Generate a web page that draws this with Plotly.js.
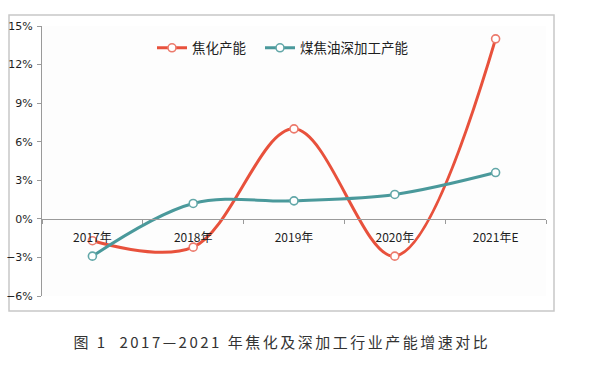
<!DOCTYPE html>
<html>
<head>
<meta charset="utf-8">
<script src="https://cdn.plot.ly/plotly-3.0.1.min.js"></script>
<style>
  html, body { margin: 0; padding: 0; background: #ffffff; }
  #chart { width: 606px; height: 372px; }
</style>
</head>
<body>
<div id="chart"></div>
<script>
// ---- data ----
const categories = ['2017年', '2018年', '2019年', '2020年', '2021年E'];
const cokingCapacity = [-1.7, -2.2, 7.0, -2.9, 14.0];          // 焦化产能 (%)
const deepProcessingCapacity = [-2.9, 1.2, 1.4, 1.9, 3.6];      // 煤焦油深加工产能 (%)
const seriesNames = ['焦化产能', '煤焦油深加工产能'];
const yTickVals = [-6, -3, 0, 3, 6, 9, 12, 15];
const yTickText = ['−6%', '−3%', '0%', '3%', '6%', '9%', '12%', '15%'];
const captionText = '图 1  2017—2021 年焦化及深加工行业产能增速对比';

const RED = '#e8513c';
const TEAL = '#4a999b';
const yMin = -6, yMax = 15;

const traces = [
  {
    x: categories, y: cokingCapacity, name: seriesNames[0],
    type: 'scatter', mode: 'lines+markers', legend: 'legend',
    line: { color: RED, width: 3, shape: 'spline', smoothing: 1 },
    marker: { symbol: 'circle', size: 8, color: '#ffffff', line: { color: '#ec7a6c', width: 1.6 } },
    hoverinfo: 'skip'
  },
  {
    x: categories, y: deepProcessingCapacity, name: seriesNames[1],
    type: 'scatter', mode: 'lines+markers', legend: 'legend2',
    line: { color: TEAL, width: 3, shape: 'spline', smoothing: 1 },
    marker: { symbol: 'circle', size: 8, color: '#ffffff', line: { color: '#62a7a8', width: 1.6 } },
    hoverinfo: 'skip'
  }
];

const plotW = 504, plotH = 270, mL = 42, mT = 26;
function px2x(px) { return (px - mL) / plotW; }
function py2y(py) { return 1 - (py - mT) / plotH; }

const legendFont = { size: 13.5, color: '#1e1e1e', family: '"Noto Sans CJK SC", sans-serif' };

const layout = {
  width: 606, height: 372,
  margin: { l: mL, r: 606 - mL - plotW, t: mT, b: 372 - mT - plotH, pad: 0 },
  paper_bgcolor: '#ffffff',
  plot_bgcolor: '#fdfdfd',
  font: { family: '"Noto Sans CJK SC", "Noto Sans", sans-serif', color: '#222222', size: 12 },
  showlegend: true,
  legend: {
    orientation: 'h', x: px2x(152), xanchor: 'left', y: py2y(48), yanchor: 'middle',
    font: legendFont, bgcolor: 'rgba(0,0,0,0)', itemclick: false
  },
  legend2: {
    orientation: 'h', x: px2x(260), xanchor: 'left', y: py2y(48), yanchor: 'middle',
    font: legendFont, bgcolor: 'rgba(0,0,0,0)', itemclick: false
  },
  xaxis: {
    type: 'category',
    range: [-0.5, categories.length - 0.5],
    anchor: 'free',
    position: (0 - yMin) / (yMax - yMin),
    showline: true, linecolor: '#9a9a9a', linewidth: 1,
    ticks: 'outside', tickson: 'boundaries', ticklen: 4, tickcolor: '#9a9a9a',
    showgrid: false, zeroline: false,
    tickfont: { size: 12, color: '#1e1e1e', family: '"Noto Sans CJK SC", sans-serif' },
    ticklabelstandoff: 8,
    fixedrange: true
  },
  yaxis: {
    range: [yMin, yMax],
    tickvals: yTickVals, ticktext: yTickText,
    showline: true, linecolor: '#9a9a9a', linewidth: 1,
    ticks: 'outside', ticklen: 4, tickcolor: '#9a9a9a',
    showgrid: false, zeroline: false,
    tickfont: { size: 11, color: '#1e1e1e', family: '"DejaVu Sans", sans-serif' },
    ticklabelstandoff: 2,
    fixedrange: true
  },
  shapes: [
    {
      type: 'rect', xref: 'paper', yref: 'paper',
      x0: px2x(9), x1: px2x(554), y0: py2y(311), y1: py2y(15),
      line: { color: '#c8c8c8', width: 1.5 }, fillcolor: 'rgba(0,0,0,0)', layer: 'below'
    }
  ],
  annotations: [
    {
      text: captionText, xref: 'paper', yref: 'paper',
      x: px2x(281.5), y: py2y(341), xanchor: 'center', yanchor: 'middle',
      showarrow: false,
      font: { size: 15, color: '#333333', family: '"Noto Sans CJK SC", sans-serif' }
    }
  ]
};

Plotly.newPlot('chart', traces, layout, { staticPlot: true, displayModeBar: false }).then(function (gd) {
  const t = gd.querySelector('.annotation-text');
  if (t) { t.style.letterSpacing = '2.5px'; }
});
</script>
</body>
</html>
